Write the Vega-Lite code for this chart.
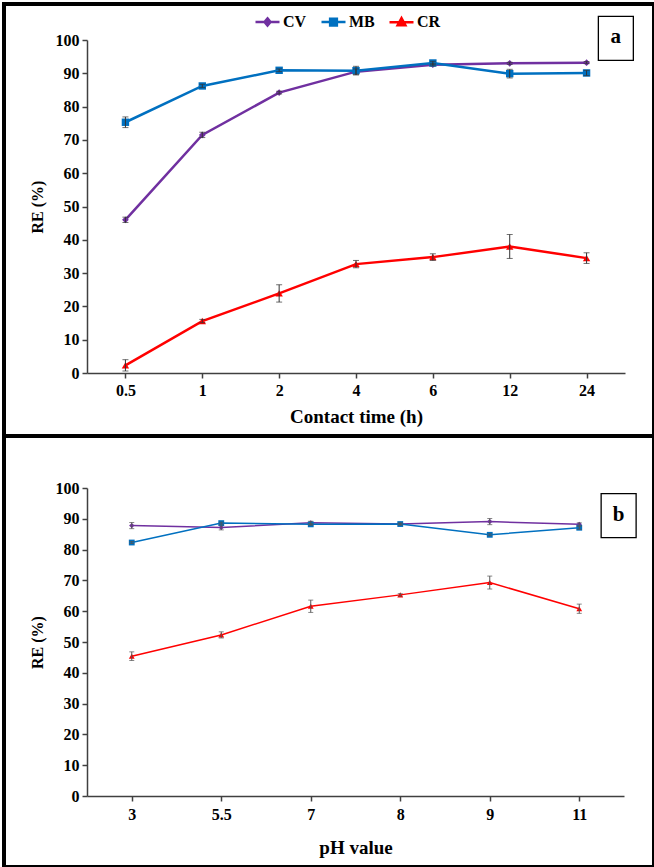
{
  "$schema": "https://vega.github.io/schema/vega-lite/v6.json",
  "background": "white",
  "padding": 2,
  "bounds": "flush",
  "spacing": 0,
  "datasets": {
    "time": [
      {"t": "0.5", "s": "CV", "re": 46.0, "err": 0.8},
      {"t": "1", "s": "CV", "re": 71.5, "err": 0.8},
      {"t": "2", "s": "CV", "re": 84.2, "err": 0.4},
      {"t": "4", "s": "CV", "re": 90.5, "err": 0.8},
      {"t": "6", "s": "CV", "re": 92.6, "err": 0.4},
      {"t": "12", "s": "CV", "re": 93.0, "err": 0.3},
      {"t": "24", "s": "CV", "re": 93.2, "err": 0.3},
      {"t": "0.5", "s": "MB", "re": 75.3, "err": 1.6},
      {"t": "1", "s": "MB", "re": 86.2, "err": 0.5},
      {"t": "2", "s": "MB", "re": 90.9, "err": 0.4},
      {"t": "4", "s": "MB", "re": 90.8, "err": 1.3},
      {"t": "6", "s": "MB", "re": 93.1, "err": 0.5},
      {"t": "12", "s": "MB", "re": 89.9, "err": 1.3},
      {"t": "24", "s": "MB", "re": 90.1, "err": 0.8},
      {"t": "0.5", "s": "CR", "re": 2.3, "err": 1.7},
      {"t": "1", "s": "CR", "re": 15.6, "err": 0.5},
      {"t": "2", "s": "CR", "re": 23.9, "err": 2.6},
      {"t": "4", "s": "CR", "re": 32.7, "err": 1.1},
      {"t": "6", "s": "CR", "re": 34.8, "err": 1.0},
      {"t": "12", "s": "CR", "re": 38.0, "err": 3.6},
      {"t": "24", "s": "CR", "re": 34.5, "err": 1.6}
    ],
    "ph": [
      {"p": "3", "s": "CV", "re": 87.8, "err": 1.0},
      {"p": "5.5", "s": "CV", "re": 87.2, "err": 0.8},
      {"p": "7", "s": "CV", "re": 88.7, "err": 0.5},
      {"p": "8", "s": "CV", "re": 88.3, "err": 0.3},
      {"p": "9", "s": "CV", "re": 89.1, "err": 1.0},
      {"p": "11", "s": "CV", "re": 88.2, "err": 0.5},
      {"p": "3", "s": "MB", "re": 82.3, "err": 0.3},
      {"p": "5.5", "s": "MB", "re": 88.6, "err": 0.3},
      {"p": "7", "s": "MB", "re": 88.2, "err": 0.3},
      {"p": "8", "s": "MB", "re": 88.3, "err": 0.3},
      {"p": "9", "s": "MB", "re": 84.8, "err": 0.3},
      {"p": "11", "s": "MB", "re": 87.1, "err": 0.5},
      {"p": "3", "s": "CR", "re": 45.4, "err": 1.4},
      {"p": "5.5", "s": "CR", "re": 52.3, "err": 1.0},
      {"p": "7", "s": "CR", "re": 61.6, "err": 2.0},
      {"p": "8", "s": "CR", "re": 65.3, "err": 0.4},
      {"p": "9", "s": "CR", "re": 69.3, "err": 2.1},
      {"p": "11", "s": "CR", "re": 60.8, "err": 1.5}
    ]
  },
  "vconcat": [
    {
      "width": 650,
      "height": 432,
      "layer": [
        {
          "data": {"name": "time"},
          "encoding": {
            "x": {
              "field": "t", "type": "ordinal", "sort": null,
              "scale": {"type": "point", "domain": ["0.5", "1", "2", "4", "6", "12", "24"], "range": [83, 621], "padding": 0.5},
              "axis": {"title": "Contact time (h)", "offset": -63, "labelAngle": 0, "labelPadding": 4, "titlePadding": 9, "titleFontSize": 19}
            },
            "y": {
              "field": "re", "type": "quantitative",
              "scale": {"domain": [0, 100], "range": [369, 36]},
              "axis": {"title": "RE (%)", "offset": -83, "values": [0, 10, 20, 30, 40, 50, 60, 70, 80, 90, 100], "labelPadding": 3, "titlePadding": 10, "titleFontSize": 16}
            }
          },
          "layer": [
            {
              "encoding": {
                "color": {
                  "field": "s", "type": "nominal",
                  "scale": {"domain": ["CV", "MB", "CR"], "range": ["#7030A0", "#0070C0", "#FF0000"]},
                  "legend": {
                    "orient": "none", "legendX": 250, "legendY": 4, "direction": "horizontal", "title": null,
                    "padding": 0, "symbolSize": 576, "labelFontSize": 16, "labelOffset": 2, "columnPadding": 9,
                    "encode": {
                      "symbols": {
                        "update": {
                          "shape": {"signal": "datum.value === 'CV' ? 'M-1,0H1M0,-0.3L0.25,0L0,0.3L-0.25,0Z' : datum.value === 'MB' ? 'M-1,0H1M-0.28,-0.28H0.28V0.28H-0.28Z' : 'M-1,0H1M0,-0.34L0.32,0.24H-0.32Z'"},
                          "fill": {"signal": "datum.value === 'CV' ? '#7030A0' : datum.value === 'MB' ? '#0070C0' : '#FF0000'"},
                          "stroke": {"signal": "datum.value === 'CV' ? '#7030A0' : datum.value === 'MB' ? '#0070C0' : '#FF0000'"},
                          "strokeWidth": {"value": 2.5}
                        }
                      }
                    }
                  }
                }
              },
              "layer": [
                {"mark": {"type": "line", "strokeWidth": 2.5}},
                {"transform": [{"filter": "datum.s === 'CV'"}], "mark": {"type": "point", "shape": "diamond", "filled": true, "opacity": 1, "size": 45}},
                {"transform": [{"filter": "datum.s === 'MB'"}], "mark": {"type": "point", "shape": "square", "filled": true, "opacity": 1, "size": 55}},
                {"transform": [{"filter": "datum.s === 'CR'"}], "mark": {"type": "point", "shape": "triangle-up", "filled": true, "opacity": 1, "size": 55}}
              ]
            },
            {
              "mark": {"type": "errorbar", "ticks": {"size": 6}, "color": "#333333", "thickness": 1},
              "encoding": {"yError": {"field": "err"}}
            }
          ]
        },
        {
          "data": {"values": [{"label": "a"}]},
          "encoding": {
            "x": {"datum": 0.983, "type": "quantitative", "scale": {"domain": [0, 1], "range": [83, 621]}, "axis": null},
            "y": {"datum": 100.5, "type": "quantitative"}
          },
          "layer": [
            {"mark": {"type": "point", "shape": "M-0.795,-1H0.795V1H-0.795Z", "size": 1936, "filled": false, "fill": "white", "fillOpacity": 1, "stroke": "black", "strokeWidth": 1.3, "opacity": 1}},
            {"mark": {"type": "text", "font": "Liberation Serif", "fontWeight": "bold", "fontSize": 21, "baseline": "middle", "align": "center", "dy": -1}, "encoding": {"text": {"field": "label"}}}
          ]
        }
      ],
      "resolve": {"scale": {"x": "independent"}}
    },
    {
      "width": 650,
      "height": 431,
      "layer": [
        {
          "data": {"name": "ph"},
          "encoding": {
            "x": {
              "field": "p", "type": "ordinal", "sort": null,
              "scale": {"type": "point", "domain": ["3", "5.5", "7", "8", "9", "11"], "range": [83, 620], "padding": 0.5},
              "axis": {"title": "pH value", "offset": -71, "labelAngle": 0, "labelPadding": 5, "titlePadding": 16, "titleFontSize": 19}
            },
            "y": {
              "field": "re", "type": "quantitative",
              "scale": {"domain": [0, 100], "range": [360, 52]},
              "axis": {"title": "RE (%)", "offset": -83, "values": [0, 10, 20, 30, 40, 50, 60, 70, 80, 90, 100], "labelPadding": 3, "titlePadding": 10, "titleFontSize": 16}
            }
          },
          "layer": [
            {
              "encoding": {
                "color": {
                  "field": "s", "type": "nominal",
                  "scale": {"domain": ["CV", "MB", "CR"], "range": ["#7030A0", "#0070C0", "#FF0000"]},
                  "legend": {
                    "orient": "none", "legendX": 261, "legendY": 17, "direction": "horizontal", "title": null,
                    "padding": 0, "symbolSize": 324, "labelFontSize": 15, "labelOffset": 2, "columnPadding": 7,
                    "encode": {
                      "symbols": {
                        "update": {
                          "shape": {"signal": "datum.value === 'CV' ? 'M-1,0H1M0,-0.33L0.28,0L0,0.33L-0.28,0Z' : datum.value === 'MB' ? 'M-1,0H1M-0.3,-0.3H0.3V0.3H-0.3Z' : 'M-1,0H1M0,-0.38L0.36,0.26H-0.36Z'"},
                          "fill": {"signal": "datum.value === 'CV' ? '#7030A0' : datum.value === 'MB' ? '#0070C0' : '#FF0000'"},
                          "stroke": {"signal": "datum.value === 'CV' ? '#7030A0' : datum.value === 'MB' ? '#0070C0' : '#FF0000'"},
                          "strokeWidth": {"value": 1.5}
                        }
                      }
                    }
                  }
                }
              },
              "layer": [
                {"mark": {"type": "line", "strokeWidth": 1.5}},
                {"transform": [{"filter": "datum.s === 'CV'"}], "mark": {"type": "point", "shape": "diamond", "filled": true, "opacity": 1, "size": 28}},
                {"transform": [{"filter": "datum.s === 'MB'"}], "mark": {"type": "point", "shape": "square", "filled": true, "opacity": 1, "size": 34}},
                {"transform": [{"filter": "datum.s === 'CR'"}], "mark": {"type": "point", "shape": "triangle-up", "filled": true, "opacity": 1, "size": 34}}
              ]
            },
            {
              "mark": {"type": "errorbar", "ticks": {"size": 5}, "color": "#555555", "thickness": 1},
              "encoding": {"yError": {"field": "err"}}
            }
          ]
        },
        {
          "data": {"values": [{"label": "b"}]},
          "encoding": {
            "x": {"datum": 0.99, "type": "quantitative", "scale": {"domain": [0, 1], "range": [83, 620]}, "axis": null},
            "y": {"datum": 91, "type": "quantitative"}
          },
          "layer": [
            {"mark": {"type": "point", "shape": "M-0.795,-1H0.795V1H-0.795Z", "size": 1936, "filled": false, "fill": "white", "fillOpacity": 1, "stroke": "black", "strokeWidth": 1.3, "opacity": 1}},
            {"mark": {"type": "text", "font": "Liberation Serif", "fontWeight": "bold", "fontSize": 21, "baseline": "middle", "align": "center", "dy": -1}, "encoding": {"text": {"field": "label"}}}
          ]
        }
      ],
      "resolve": {"scale": {"x": "independent"}}
    }
  ],
  "config": {
    "font": "Liberation Serif",
    "view": {"stroke": "black", "strokeWidth": 4},
    "axis": {
      "labelFont": "Liberation Serif", "labelFontWeight": "bold", "labelFontSize": 16, "labelColor": "black",
      "titleFont": "Liberation Serif", "titleFontWeight": "bold", "titleColor": "black",
      "domainColor": "#404040", "domainWidth": 1.5, "tickColor": "#404040", "tickWidth": 1.5, "tickSize": 5, "grid": false
    },
    "legend": {"labelFont": "Liberation Serif", "labelFontWeight": "bold", "labelColor": "black"}
  }
}
